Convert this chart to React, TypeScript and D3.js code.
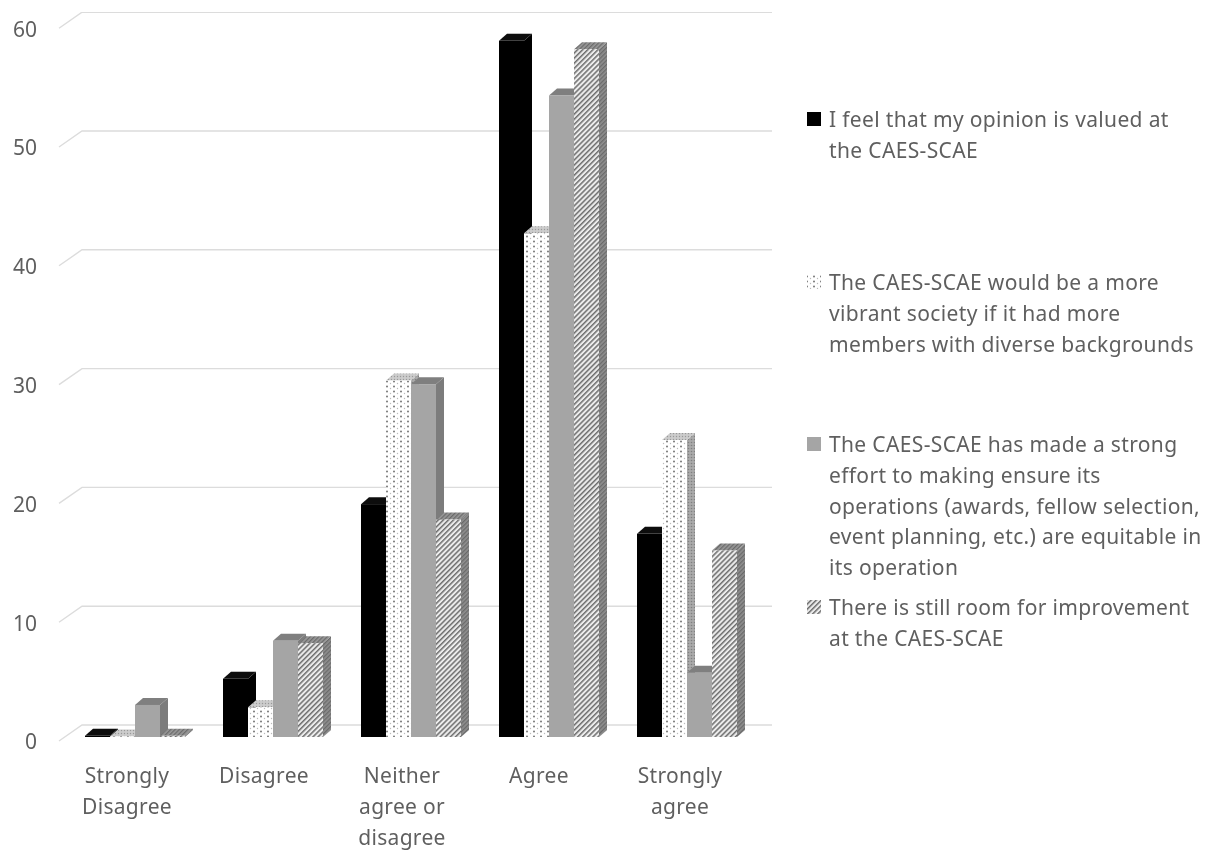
import React from "react";
import * as d3 from "d3";

const categories = [["Strongly", "Disagree"], ["Disagree"], ["Neither", "agree or", "disagree"], ["Agree"], ["Strongly", "agree"]];
const categoryKeys = ["sd", "d", "n", "a", "sa"];
const opinionValued = [0.1, 4.9, 19.6, 58.6, 17.1];
const vibrantSociety = [0.05, 2.5, 30, 42.4, 25];
const strongEffort = [2.7, 8.1, 29.7, 54, 5.4];
const roomForImprovement = [0.1, 7.9, 18.3, 57.9, 15.7];
const yTicks = [0, 10, 20, 30, 40, 50, 60];

const seriesList = [
  { key: "s1", values: opinionValued, front: "#000", side: "#000", top: "#111",
    legend: ["I feel that my opinion is valued at", "the CAES-SCAE"], legendY: 120 },
  { key: "s2", values: vibrantSociety, front: "url(#dots)", side: "url(#dotsSide)", top: "url(#dotsTop)",
    legend: ["The CAES-SCAE would be a more", "vibrant society if it had more", "members with diverse backgrounds"], legendY: 283 },
  { key: "s3", values: strongEffort, front: "#a5a5a5", side: "#7b7b7b", top: "#7f7f7f",
    legend: ["The CAES-SCAE has made a strong", "effort to making ensure its", "operations (awards, fellow selection,", "event planning, etc.) are equitable in", "its operation"], legendY: 445 },
  { key: "s4", values: roomForImprovement, front: "url(#hatch)", side: "url(#hatchSide)", top: "url(#hatchTop)",
    legend: ["There is still room for improvement", "at the CAES-SCAE"], legendY: 608 },
];

const FONT = "'Noto Sans', 'Open Sans', sans-serif";
const TEXT = "#5f5f5f";
const DX = 8;
const DY = 7;
const BACK_DY = 12;
const WALL_DX = 23;
const WALL_DY = 16;
const BAR_W = 25;
const GROUP_W = 138;

export default function App() {
  const y = d3.scaleLinear().domain([0, 60]).range([737, 24.2]);
  const xGroup = d3.scaleBand<string>().domain(categoryKeys).range([85, 85 + GROUP_W * 5]).paddingInner(0).paddingOuter(0).align(0);
  const x = (groupIdx: number, sIdx: number) => (xGroup(categoryKeys[groupIdx]) as number) + sIdx * BAR_W;
  const centers = [127, 264, 402, 539, 680];

  return (
    <svg width={1209} height={850} style={{ position: "absolute", left: 0, top: 0, background: "#fff" }} fontFamily={FONT}>
      <defs>
        <filter id="soft" x="0" y="0" width="100%" height="100%"><feGaussianBlur stdDeviation="0.55" /></filter>
        <pattern id="dots" width="7" height="5" patternUnits="userSpaceOnUse">
          <rect width="7" height="5" fill="#fff" />
          <circle cx="2" cy="1.5" r="1" fill="#777" />
          <circle cx="5.5" cy="3.5" r="0.7" fill="#bbb" />
        </pattern>
        <pattern id="dotsSide" width="3" height="3" patternUnits="userSpaceOnUse">
          <rect width="3" height="3" fill="#aaa" />
          <circle cx="1.5" cy="1.5" r="0.8" fill="#808080" />
        </pattern>
        <pattern id="dotsTop" width="3" height="3" patternUnits="userSpaceOnUse">
          <rect width="3" height="3" fill="#ccc" />
          <circle cx="1.5" cy="1.5" r="0.7" fill="#999" />
        </pattern>
        <pattern id="hatch" width="3.6" height="3.6" patternUnits="userSpaceOnUse" patternTransform="rotate(45)">
          <rect width="3.6" height="3.6" fill="#ececec" />
          <rect width="1.5" height="3.6" fill="#6e6e6e" />
        </pattern>
        <pattern id="hatchSide" width="3" height="3" patternUnits="userSpaceOnUse" patternTransform="rotate(45)">
          <rect width="3" height="3" fill="#8f8f8f" />
          <rect width="1.3" height="3" fill="#6a6a6a" />
        </pattern>
        <pattern id="hatchTop" width="3" height="3" patternUnits="userSpaceOnUse" patternTransform="rotate(45)">
          <rect width="3" height="3" fill="#999" />
          <rect width="1.3" height="3" fill="#6a6a6a" />
        </pattern>
      </defs>
      <g filter="url(#soft)">
        {yTicks.map((t) => {
          const gy = y(t) - BACK_DY;
          return (
            <g key={t}>
              <path d={`M${82 - WALL_DX},${gy + WALL_DY}L82,${gy}H772`} fill="none" stroke="#dcdcdc" strokeWidth={1.4} />
              <text x={37} y={y(t) + 5} dy="0.35em" textAnchor="end" fontSize={21} fill={TEXT}>{t}</text>
            </g>
          );
        })}
        {categoryKeys.map((_, g) =>
          seriesList.map((s, i) => {
            const x0 = x(g, i);
            const x1 = x0 + BAR_W;
            const yTop = y(s.values[g]);
            const yBase = y(0);
            return (
              <g key={s.key + g}>
                <path d={`M${x1},${yTop}L${x1 + DX},${yTop - DY}V${yBase - DY}L${x1},${yBase}Z`} fill={s.side} />
                <path d={`M${x0},${yTop}L${x0 + DX},${yTop - DY}H${x1 + DX}L${x1},${yTop}Z`} fill={s.top} />
                <rect x={x0} y={yTop} width={BAR_W} height={yBase - yTop} fill={s.front} />
              </g>
            );
          })
        )}
        {categories.map((lines, g) => (
          <text key={g} textAnchor="middle" fontSize={21} letterSpacing={0.3} fill={TEXT}>
            {lines.map((l, k) => (
              <tspan key={k} x={centers[g]} y={776 + k * 31} dy="0.35em">{l}</tspan>
            ))}
          </text>
        ))}
        {seriesList.map((s) => (
          <g key={s.key}>
            <rect x={807} y={s.legendY - 8} width={14} height={14} fill={s.front} />
            <text fontSize={21} letterSpacing={0.35} fill={TEXT}>
              {s.legend.map((l, k) => (
                <tspan key={k} x={829} y={s.legendY + k * 30.7} dy="0.35em">{l}</tspan>
              ))}
            </text>
          </g>
        ))}
      </g>
    </svg>
  );
}
